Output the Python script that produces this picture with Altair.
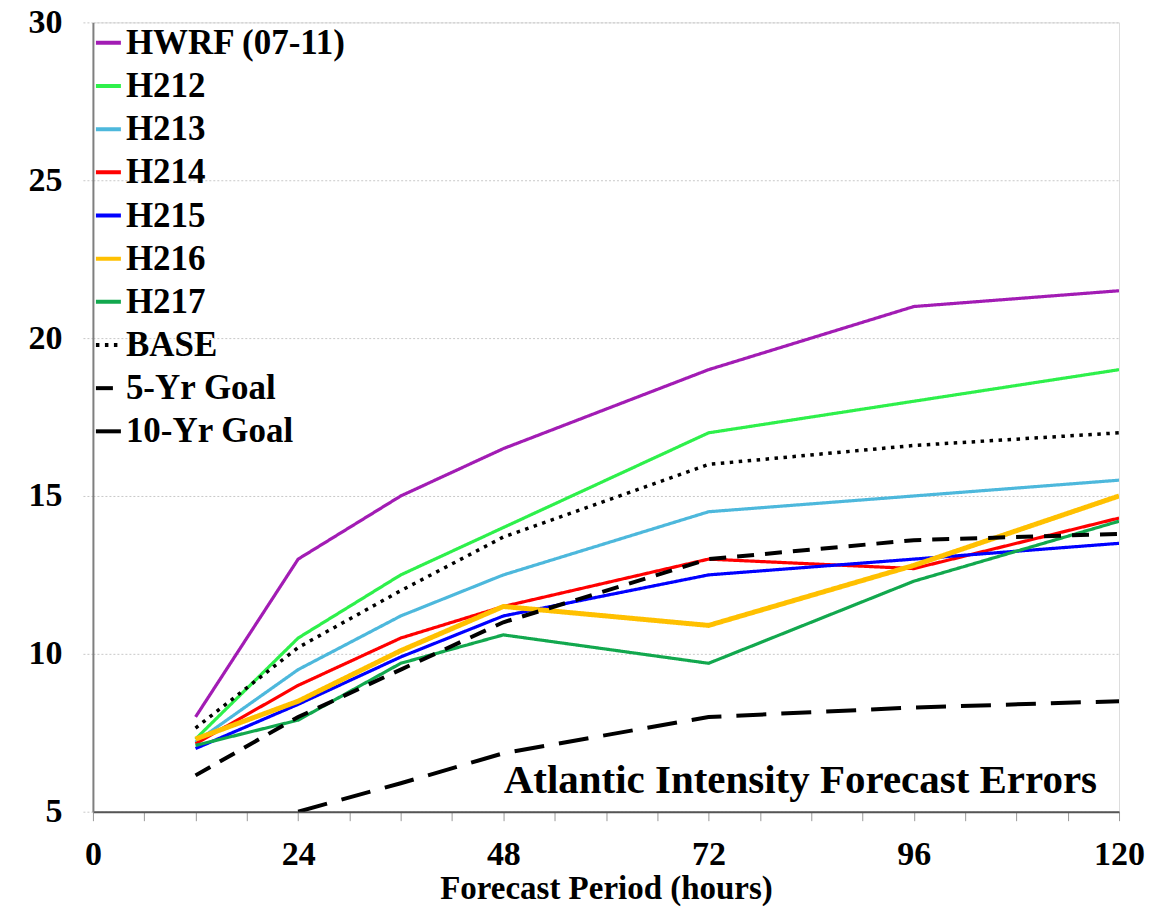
import altair as alt
import pandas as pd

hours = [12, 24, 36, 48, 72, 96, 120]
series_names = ["HWRF (07-11)", "H212", "H213", "H214", "H215", "H216", "H217",
                "BASE", "5-Yr Goal", "10-Yr Goal"]
hwrf = [8.0, 13.0, 15.0, 16.5, 19.0, 21.0, 21.5]
h212 = [7.3, 10.5, 12.5, 14.0, 17.0, 18.0, 19.0]
h213 = [7.2, 9.5, 11.2, 12.5, 14.5, 15.0, 15.5]
h214 = [7.15, 9.0, 10.5, 11.5, 13.0, 12.7, 14.3]
h215 = [7.0, 8.4, 9.9, 11.2, 12.5, 13.0, 13.5]
h216 = [7.3, 8.5, 10.1, 11.5, 10.9, 12.8, 15.0]
h217 = [7.1, 7.9, 9.7, 10.6, 9.7, 12.3, 14.2]
base = [7.65, 10.2, 12.0, 13.7, 16.0, 16.6, 17.0]
goal5 = [6.15, 8.0, 9.5, 11.0, 13.0, 13.6, 13.8]
goal10 = [None, 5.0, 5.9, 6.85, 8.0, 8.3, 8.5]

y_ticks = [5, 10, 15, 20, 25, 30]
x_ticks = list(range(0, 121, 6))
annotation_text = "Atlantic Intensity Forecast Errors"
x_title = "Forecast Period (hours)"

colors = ["#A21CB4", "#2EF04B", "#4DB8DC", "#FF0000", "#0000FF", "#FFC000",
          "#12A84E", "#000000", "#000000", "#000000"]
dashes = [[1, 0]] * 7 + [[3.5, 5.5], [17, 11], [30, 15]]

all_values = [hwrf, h212, h213, h214, h215, h216, h217, base, goal5, goal10]
rows = []
for name, vals in zip(series_names, all_values):
    for h, v in zip(hours, vals):
        if v is not None:
            rows.append({"hour": h, "err": v, "series": name})
df = pd.DataFrame(rows)

FONT = "Liberation Serif"

legend = alt.Legend(
    title=None, orient="none", legendX=-2, legendY=3, symbolType="stroke",
    symbolSize=625, symbolStrokeWidth=4, labelFont=FONT, labelFontSize=35,
    labelFontWeight="bold", labelColor="#000000", rowPadding=7.2, labelOffset=0,
    padding=0, labelLimit=500,
)

width_rule = (
    alt.when(alt.datum.series == "H216").then(alt.value(5))
    .when(alt.FieldOneOfPredicate(field="series", oneOf=["5-Yr Goal", "10-Yr Goal"])).then(alt.value(4))
    .when(alt.datum.series == "BASE").then(alt.value(3.5))
    .otherwise(alt.value(3.2))
)

lines = alt.Chart(df).mark_line(clip=True).encode(
    x=alt.X("hour:Q", scale=alt.Scale(domain=[0, 120], nice=False),
            axis=alt.Axis(values=x_ticks, labelExpr="datum.value % 24 == 0 ? datum.label : ''",
                          title=x_title, grid=False, tickSize=9, tickColor="#999999",
                          tickWidth=1, domainColor="#555555", domainWidth=2,
                          labelFont=FONT, labelFontSize=34, labelFontWeight="bold",
                          labelColor="#000000", labelPadding=17, labelOverlap=False,
                          labelFlush=False,
                          titleFont=FONT, titleFontSize=33, titleFontWeight="bold",
                          titleColor="#000000", titlePadding=1)),
    y=alt.Y("err:Q", scale=alt.Scale(domain=[5, 30], nice=False, zero=False),
            axis=alt.Axis(values=y_ticks, title=None, grid=True, gridColor="#c8c8c8",
                          gridDash=[2, 2], gridWidth=1, tickSize=10, tickColor="#c8c8c8",
                          tickDash=[2, 2], domainColor="#7f7f7f", domainWidth=2,
                          labelFont=FONT, labelFontSize=34, labelFontWeight="bold",
                          labelColor="#000000", labelPadding=21)),
    color=alt.Color("series:N", scale=alt.Scale(domain=series_names, range=colors), legend=legend),
    strokeDash=alt.StrokeDash("series:N", scale=alt.Scale(domain=series_names, range=dashes), legend=legend),
    strokeWidth=width_rule,
)

label = alt.Chart(pd.DataFrame({"t": [annotation_text]})).mark_text(
    font=FONT, fontSize=41, fontWeight="bold", color="#000000", align="right",
    baseline="alphabetic"
).encode(text="t:N", x=alt.value(1005), y=alt.value(771))

chart = alt.layer(lines, label).properties(
    width=1027, height=790,
    padding={"left": 85, "top": 14, "right": 30, "bottom": 97},
    autosize=alt.AutoSizeParams(type="none"),
).configure_view(stroke="#999999", strokeWidth=2).configure(background="white")

chart.save("out.html", embed_options={"renderer": "svg", "actions": False})
